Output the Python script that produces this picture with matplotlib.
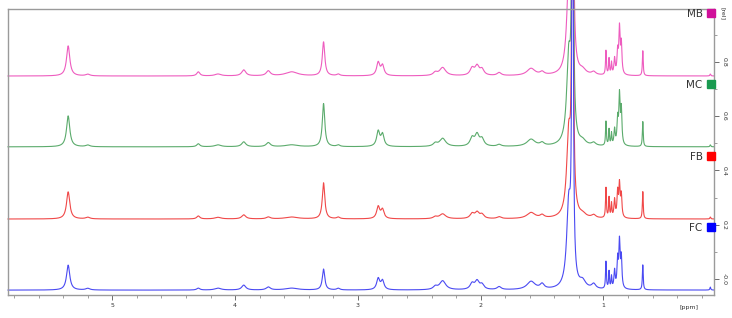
import numpy as np
import matplotlib
matplotlib.use("Agg")
import matplotlib.pyplot as plt
import matplotlib.transforms as mtransforms

# ------------------------------------ Data ----------------------------------
samples = ["MB", "MC", "FB", "FC"]
line_colors = ["#ee5cbf", "#5bab6c", "#f04848", "#4a4af2"]
box_colors = ["#d0109a", "#1a9a50", "#ff0000", "#0000ff"]

# peak table: position [ppm], half width [ppm]
peak_ppm = [5.36, 5.20, 4.30, 4.14, 3.93, 3.73, 3.54, 3.28, 3.16, 2.835, 2.80,
            2.37, 2.31, 2.07, 2.03, 1.99, 1.85, 1.59, 1.50, 1.283, 1.252,
            1.17, 1.08, 0.98, 0.955, 0.935, 0.91, 0.885, 0.87, 0.855, 0.68, 0.13]
peak_hw = [0.016, 0.02, 0.015, 0.03, 0.02, 0.02, 0.06, 0.012, 0.015, 0.015, 0.015,
           0.02, 0.03, 0.02, 0.02, 0.02, 0.02, 0.04, 0.02, 0.02, 0.0045,
           0.03, 0.02, 0.004, 0.004, 0.004, 0.006, 0.006, 0.006, 0.006, 0.004, 0.004]

# peak heights [rel] per sample
h_MB = [0.111, 0.006, 0.015, 0.007, 0.022, 0.018, 0.015, 0.125, 0.006, 0.048, 0.037,
        0.011, 0.030, 0.026, 0.033, 0.022, 0.011, 0.026, 0.011, 0.32, 3.0,
        0.015, 0.011, 0.089, 0.059, 0.044, 0.059, 0.081, 0.166, 0.111, 0.092, 0.007]
h_MC = [0.114, 0.006, 0.011, 0.007, 0.018, 0.015, 0.007, 0.159, 0.006, 0.055, 0.044,
        0.011, 0.030, 0.030, 0.041, 0.026, 0.007, 0.026, 0.011, 0.32, 3.0,
        0.015, 0.011, 0.089, 0.059, 0.044, 0.059, 0.092, 0.177, 0.129, 0.092, 0.007]
h_FB = [0.100, 0.006, 0.011, 0.006, 0.015, 0.007, 0.007, 0.133, 0.006, 0.044, 0.033,
        0.007, 0.018, 0.018, 0.022, 0.015, 0.007, 0.022, 0.011, 0.30, 3.0,
        0.011, 0.011, 0.111, 0.074, 0.052, 0.066, 0.092, 0.118, 0.081, 0.100, 0.007]
h_FC = [0.092, 0.006, 0.007, 0.007, 0.018, 0.011, 0.007, 0.077, 0.006, 0.041, 0.033,
        0.011, 0.033, 0.022, 0.030, 0.018, 0.011, 0.030, 0.018, 0.30, 3.0,
        0.026, 0.018, 0.100, 0.063, 0.044, 0.066, 0.103, 0.166, 0.111, 0.092, 0.011]
heights = [h_MB, h_MC, h_FB, h_FC]

# stacking offsets of the traces [rel]
offsets = [0.748, 0.487, 0.221, -0.041]
label_gap = 0.228

x_major = [5, 4, 3, 2, 1]
y_major = [0.0, 0.2, 0.4, 0.6, 0.8]
y_labels = ["-0.0", "0.2", "0.4", "0.6", "0.8"]


# ------------------------------------ Functions ----------------------------------
def spectrum(ppm, pos, hw, amp):
    """Sum of lorentzian lines for a peak table."""
    out = np.zeros_like(ppm)
    for p, w, a in zip(pos, hw, amp):
        out += a / (1.0 + ((ppm - p) / w) ** 2)
    return out


# ------------------------------------ Plot ----------------------------------
ppm = np.linspace(5.85, 0.10, 12000)

fig = plt.figure(figsize=(7.32, 3.18), dpi=100)
ax = fig.add_axes([8 / 732, 23 / 318, 706 / 732, 286 / 318])

for name, lc, bc, h, off in zip(samples, line_colors, box_colors, heights, offsets):
    y = off + spectrum(ppm, peak_ppm, peak_hw, h)
    ax.plot(ppm, y, color=lc, lw=0.8, clip_on=False, zorder=2)
    trans = mtransforms.blended_transform_factory(ax.transAxes, ax.transData)
    ax.text(0.984, off + label_gap, name, transform=trans, ha="right", va="center",
            fontsize=7.5, color="#333333")
    ax.plot([0.9955], [off + label_gap + 0.004], marker="s", ms=5.2, color=bc,
            transform=trans, clip_on=False, zorder=3)

ax.set_xlim(5.85, 0.10)
ax.set_ylim(-0.059, 0.995)

ax.set_xticks(x_major)
ax.set_xticklabels([str(v) for v in x_major])
ax.set_xticks(np.arange(0.2, 5.85, 0.2), minor=True)

ax.yaxis.tick_right()
ax.set_yticks(y_major)
ax.set_yticklabels(y_labels, rotation=270, va="center")
ax.set_yticks(np.arange(0.1, 0.95, 0.1), minor=True)

ax.tick_params(axis="both", which="major", labelsize=4.5, length=3.5, width=0.6,
               color="#555555", labelcolor="#333333", pad=2)
ax.tick_params(axis="both", which="minor", length=2, width=0.5, color="#777777")

for s in ax.spines.values():
    s.set_color("#9a9a9a")
    s.set_linewidth(1.0)

ax.text(0.965, -0.035, "[ppm]", transform=ax.transAxes, ha="center", va="top",
        fontsize=4.5, color="#333333")
ax.text(1.012, 0.985, "[rel]", transform=ax.transAxes, ha="center", va="center",
        rotation=270, fontsize=4.5, color="#333333")

fig.savefig("out.png", dpi=100)
